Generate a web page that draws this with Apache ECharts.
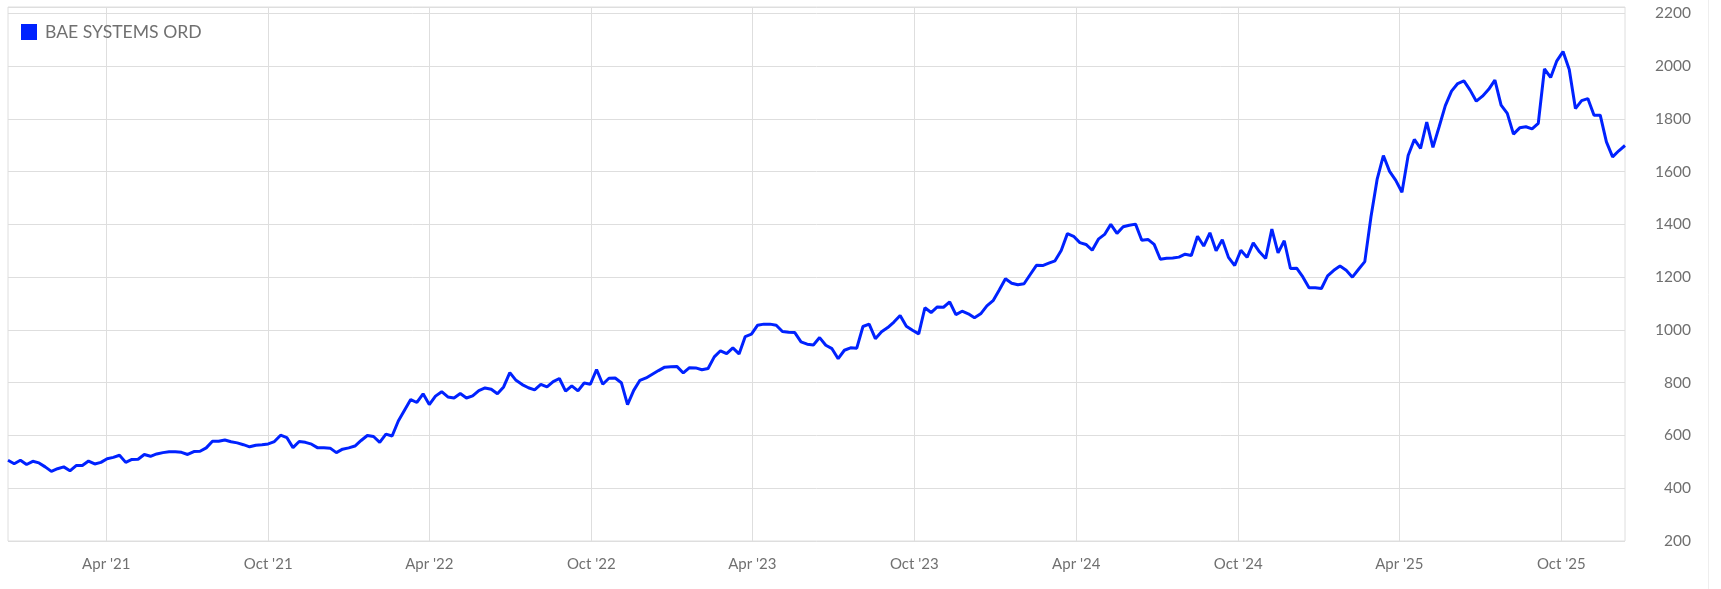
<!DOCTYPE html>
<html><head><meta charset="utf-8">
<script src="https://cdn.jsdelivr.net/npm/echarts@6/dist/echarts.min.js"></script>
<style>html,body{margin:0;padding:0;background:#fff}#c{width:1721px;height:589px}</style>
</head><body><div id="c"></div>
<script>
const seriesName = 'BAE SYSTEMS ORD';
const startDate = '2020-12-11';   // first weekly close
const stepDays = 7;               // weekly closes
const prices = [
  506,493,506,490,502,496,481,464,474,481,466,486,486,503,492,498,512,517,525,498,
  509,510,528,521,530,535,538,538,536,528,539,540,553,578,578,583,576,572,565,557,
  563,565,568,577,601,
  592,554,577,574,567,553,553,552,535,548,553,560,581,600,596,574,605,598,655,696,
  736,725,758,717,749,766,746,742,759,742,750,770,780,775,758,784,838,809,793,781,
  773,794,784,
  804,816,768,788,769,799,794,850,794,817,818,800,717,771,809,818,832,846,859,860,
  861,837,857,856,849,854,898,921,910,932,909,975,984,1018,1022,1022,1018,994,991,990,
  955,946,
  943,971,942,929,891,923,932,931,1013,1022,967,993,1009,1030,1055,1014,999,985,1084,1066,
  1087,1086,1106,1058,1071,1061,1046,1061,1091,1111,1151,1194,1177,1171,1175,1210,1245,1244,1253,1262,
  1301,1365,
  1355,1331,1324,1302,1344,1362,1400,1366,1391,1397,1401,1340,1343,1324,1268,1272,1273,1276,1287,1282,
  1355,1318,1368,1300,1342,1275,1244,1302,1275,1330,1296,1271,1382,1292,1338,1233,1234,1201,1160,1160,
  1157,
  1205,1226,1242,1226,1200,1230,1259,1429,1572,1661,1601,1567,1522,1661,1722,1688,1788,1692,1770,1850,
  1905,1934,1944,1909,1867,1886,1912,
  1947,1852,1821,1742,1766,1770,1762,1783,1989,1957,2020,2055,1987,1839,1869,1877,1814,1814,1713,1656,
  1679,1699
];
const yTickLabels = [200,400,600,800,1000,1200,1400,1600,1800,2000,2200];
const xTickDates = ['2021-04-01','2021-10-01','2022-04-01','2022-10-01','2023-04-01','2023-10-01',
                    '2024-04-01','2024-10-01','2025-04-01','2025-10-01'];
const monthNames = ['Jan','Feb','Mar','Apr','May','Jun','Jul','Aug','Sep','Oct','Nov','Dec'];

const DAY = 86400000;
const t0 = new Date(startDate).getTime();
const seriesData = prices.map((v, i) => [t0 + i * stepDays * DAY, v]);
const xTickVals = xTickDates.map(d => new Date(d).getTime());
const tEnd = seriesData[seriesData.length - 1][0];

const FONT = 'Lato';
const LABEL = '#707070';
const GRID = '#dedede';

const chart = echarts.init(document.getElementById('c'), null, {renderer: 'canvas'});
chart.setOption({
  animation: false,
  backgroundColor: '#ffffff',
  grid: {left: 8, right: 96, top: 7, bottom: 48, show: true, borderColor: GRID, borderWidth: 1, containLabel: false},
  legend: {
    left: 21, top: 23, padding: 0, icon: 'rect', itemWidth: 16, itemHeight: 16,
    textStyle: {fontFamily: FONT, fontSize: 17.6, color: LABEL, padding: [0, 0, 0, 3]},
    data: [seriesName]
  },
  xAxis: {
    type: 'value', min: t0, max: tEnd, scale: true,
    axisLine: {show: false},
    axisTick: {show: false, customValues: xTickVals},
    axisLabel: {
      customValues: xTickVals, margin: 16, color: LABEL, fontFamily: FONT, fontSize: 15,
      formatter: v => { const d = new Date(v); return monthNames[d.getUTCMonth()] + " '" + String(d.getUTCFullYear()).slice(2); }
    },
    splitLine: {show: true, lineStyle: {color: GRID, width: 1}}
  },
  yAxis: {
    type: 'value', position: 'right', min: 200, max: 2224, interval: 200,
    axisLine: {show: false}, axisTick: {show: false},
    axisLabel: {
      margin: 66, align: 'right', color: LABEL, fontFamily: FONT, fontSize: 15.5, padding: [0, 0, 4, 0],
      formatter: v => yTickLabels.includes(v) ? String(v) : ''
    },
    splitLine: {show: true, lineStyle: {color: GRID, width: 1}}
  },
  graphic: [{type: 'line', shape: {x1: 1708.5, y1: 0, x2: 1708.5, y2: 589}, style: {stroke: '#eeeeee', lineWidth: 1}, silent: true}],
  series: [{
    name: seriesName, type: 'line', data: seriesData, showSymbol: false, symbol: 'none',
    color: '#0022ff', lineStyle: {color: '#0022ff', width: 3}, itemStyle: {color: '#0022ff'}
  }]
});
</script></body></html>
